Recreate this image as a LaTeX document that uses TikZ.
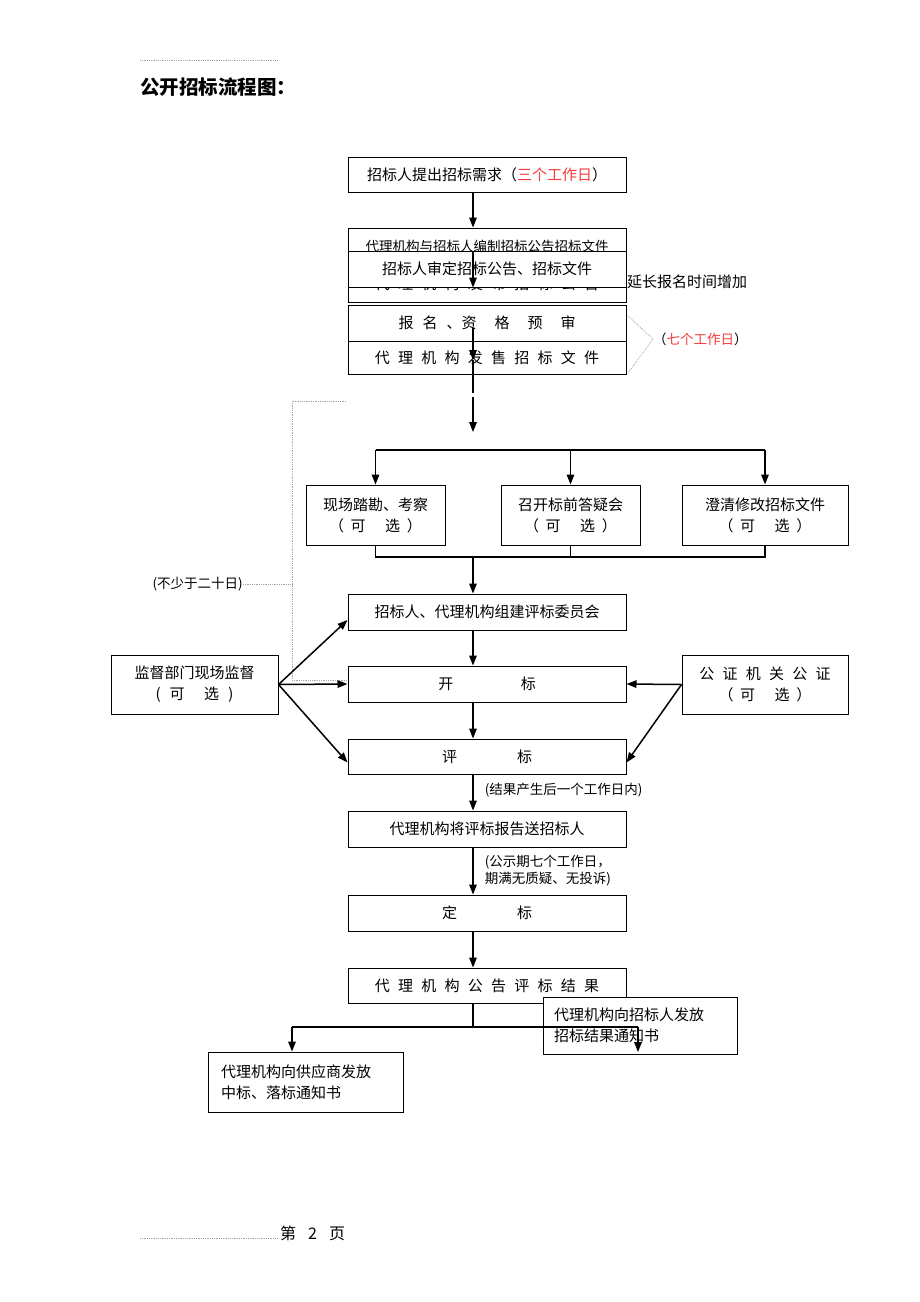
\documentclass[tikz,border=0pt]{standalone}
\usepackage{fontspec}
\setmainfont{Noto Sans CJK SC}
\usetikzlibrary{arrows.meta}
\usetikzlibrary{positioning}
\definecolor{deadline}{RGB}{245,60,60}
\tikzset{block/.style={draw, text centered, align=center, fill=white, line width=1pt, minimum width=278pt, minimum height=36pt, inner sep=2pt, font=\fontsize{15}{21}\selectfont}}
\tikzset{connect/.style={draw, line width=1.5pt}}
\tikzset{note/.style={inner sep=0pt, font=\fontsize{13.5}{17}\selectfont}}
\tikzset{guide/.style={draw, densely dotted, gray!70, line width=0.8pt}}
\newcommand{\sgap}{\hspace{0.55em}}
\newcommand{\optional}{（\hspace{0.45em}可\hspace{1.3em}选\hspace{0.45em}）}

\begin{document}
\begin{tikzpicture}[x=1pt,y=-1pt,>={Triangle[length=10pt,width=7.5pt]}]

\path[use as bounding box] (0,0) rectangle (920,1302);

%header / footer
\draw[guide] (140,60) -- (278,60);
\node[anchor=west,inner sep=0pt,font=\fontsize{19.5}{22}\selectfont\bfseries] (title) at (140,87) {公开招标流程图：};
\draw[guide] (140,1238) -- (278,1238);
\node[anchor=west,inner sep=0pt,font=\fontsize{16}{18}\selectfont] (pageno) at (280,1233) {第\hspace{0.75em}2\hspace{0.75em}页};

%preparation
\node[block,minimum height=35pt] (need) at (487,174.5) {招标人提出招标需求（\textcolor{deadline}{三个工作日}）};
\node[block,minimum height=37pt,font=\fontsize{13.5}{17}\selectfont] (compile) at (487,246.5) {代理机构与招标人编制招标公告招标文件};
\node[block,minimum height=37pt] (publish) at (487,283.5) {代\sgap 理\sgap 机\sgap 构\sgap 发\sgap 布\sgap 招\sgap 标\sgap 公\sgap 告};
\node[block] (review) at (487,269) {招标人审定招标公告、招标文件};
\node[anchor=west,inner sep=0pt,font=\fontsize{15}{18}\selectfont] (extend) at (627,282) {延长报名时间增加};
\node[block] (signup) at (487,323) {报\hspace{0.6em}名\hspace{0.6em}、资\hspace{1.2em}格\hspace{1.2em}预\hspace{1.2em}审};
\node[block,minimum height=33pt] (sell) at (487,357.5) {代\sgap 理\sgap 机\sgap 构\sgap 发\sgap 售\sgap 招\sgap 标\sgap 文\sgap 件};
\node[anchor=west,inner sep=0pt,font=\fontsize{13.5}{15}\selectfont] (sevendays) at (653,339) {（\textcolor{deadline}{七个工作日}）};

%optional steps
\node[block,minimum height=60pt,minimum width=139pt] (survey) at (375.5,515) {现场踏勘、考察\\\optional};
\node[block,minimum height=60pt,minimum width=139pt] (qa) at (570.5,515) {召开标前答疑会\\\optional};
\node[block,minimum height=60pt,minimum width=166pt] (clarify) at (765,515) {澄清修改招标文件\\\optional};

%bidding
\node[block] (committee) at (487,612) {招标人、代理机构组建评标委员会};
\node[block] (opening) at (487,684) {开\hspace{4.5em}标};
\node[block,minimum height=35pt] (evaluate) at (487,756.5) {评\hspace{4em}标};
\node[block] (report) at (487,829) {代理机构将评标报告送招标人};
\node[block] (award) at (487,913) {定\hspace{4em}标};
\node[block,minimum height=35pt] (announce) at (487,985.5) {代\sgap 理\sgap 机\sgap 构\sgap 公\sgap 告\sgap 评\sgap 标\sgap 结\sgap 果};
\node[block,minimum height=57pt,minimum width=194pt,text width=172pt,inner xsep=11pt,align=left] (notifyowner) at (640,1025.5) {代理机构向招标人发放\\招标结果通知书};
\node[block,minimum height=60pt,minimum width=195pt,text width=169pt,inner xsep=13pt,align=left] (notifysupplier) at (305.5,1082) {代理机构向供应商发放\\中标、落标通知书};

%supervision
\node[block,minimum height=59pt,minimum width=167pt] (supervise) at (194.5,684.5) {监督部门现场监督\\(\hspace{0.6em}可\hspace{1.3em}选\hspace{0.6em})};
\node[block,minimum height=59pt,minimum width=166pt] (notary) at (765,684.5) {公\sgap 证\sgap 机\sgap 关\sgap 公\sgap 证\\\optional};
\node[anchor=east,inner sep=0pt,font=\fontsize{13.5}{17}\selectfont] (minday) at (243,584) {(不少于二十日)};

%dotted guides
\coordinate (d1) at (346,401);
\coordinate (d2) at (292,401);
\coordinate (dd) at ([yshift=4pt]opening.west);
\draw[guide] (d1) -- (d2) -- (d2 |- dd) -- (dd);
\draw[guide] (minday.east) -- (minday.east -| d2);
\coordinate (b1) at (628,316);
\coordinate (b2) at (628,373);
\draw[guide] (b1) -- (sevendays.west) -- (b2);

%main line
\coordinate (axis) at (473,0);
\path[connect,->] (need.south -| axis) -- (compile.north -| axis);
\path[connect,->] (review.north -| axis) -- (review.south -| axis);
\coordinate (s1) at (473,328);
\coordinate (s2) at (473,360);
\coordinate (s3) at (473,393);
\coordinate (s4) at (473,397);
\coordinate (s5) at (473,432);
\path[connect,->] (s1) -- (s2);
\path[connect] (s2) -- (s3);
\path[connect,->] (s4) -- (s5);

%fork to optional steps
\coordinate (fork) at (473,450);
\path[connect] (survey.north |- fork) -- (clarify.north |- fork);
\path[connect,->] (survey.north |- fork) -- (survey.north);
\path[connect,->] (qa.north |- fork) -- (qa.north);
\path[connect,->] (clarify.north |- fork) -- (clarify.north);
\coordinate (join) at (473,557);
\path[connect] (survey.south) -- (survey.south |- join) -- (clarify.south |- join) -- (clarify.south);
\path[connect] (qa.south) -- (qa.south |- join);
\path[connect,->] (join) -- (committee.north -| axis);

%bidding line
\path[connect,->] (committee.south -| axis) -- (opening.north -| axis);
\path[connect,->] (opening.south -| axis) -- (evaluate.north -| axis);
\path[connect,->] (evaluate.south -| axis) -- node[note,anchor=west,xshift=11pt,yshift=2pt]{(结果产生后一个工作日内)} (report.north -| axis);
\path[connect,->] (report.south -| axis) -- node[note,anchor=west,xshift=11pt,align=left]{(公示期七个工作日，\\期满无质疑、无投诉)} (award.north -| axis);
\path[connect,->] (award.south -| axis) -- (announce.north -| axis);

%notices
\coordinate (split) at (473,1027);
\coordinate (supplierdrop) at (292,1027);
\coordinate (ownerdrop) at (638,1027);
\coordinate (ownertip) at (638,1052);
\path[connect] (announce.south -| axis) -- (split);
\path[connect] (supplierdrop) -- (ownerdrop);
\path[connect,->] (supplierdrop) -- (supplierdrop |- notifysupplier.north);
\path[connect,->] (ownerdrop) -- (ownertip);

%supervision arrows
\path[connect,->] (supervise.east) -- ([yshift=-8pt]committee.west);
\path[connect,->] (supervise.east) -- (opening.west);
\path[connect,->] (supervise.east) -- ([yshift=-6pt]evaluate.west);
\path[connect,->] (notary.west) -- (opening.east);
\path[connect,->] (notary.west) -- ([yshift=-6pt]evaluate.east);

\end{tikzpicture}
\end{document}
